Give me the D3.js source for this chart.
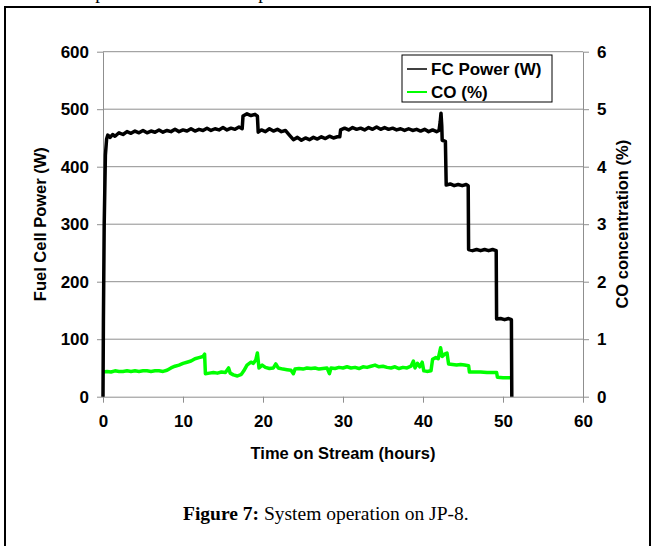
<!DOCTYPE html>
<html><head><meta charset="utf-8">
<script src="https://cdn.jsdelivr.net/npm/d3@7"></script>
<style>html,body{margin:0;padding:0;background:#fff;}svg{display:block;}</style>
</head><body>
<svg id="c" width="654" height="546"></svg>
<script>
// ---- data ----
const xTicks = [0, 10, 20, 30, 40, 50, 60];
const powerTicks = [0, 100, 200, 300, 400, 500, 600];
const coTicks = [0, 1, 2, 3, 4, 5, 6];
const seriesNames = ["FC Power (W)", "CO (%)"];

const powerTime = [0,0.05,0.15,0.3,0.45,0.6,0.9,1.2,1.5,2,2.5,3,3.5,4,4.5,5,5.5,6,6.5,7,7.5,8,8.5,9,9.5,10,10.5,11,11.5,12,12.5,13,13.5,14,14.5,15,15.5,16,16.5,17,17.4,
17.5,18,18.5,19,19.3,19.4,19.8,20.3,20.8,21.3,21.8,22.3,22.8,23.3,23.8,24.3,24.8,25.3,25.8,26.3,26.8,27.3,27.8,28.3,28.8,29.3,29.6,
29.7,30.2,30.7,31.2,31.7,32.2,32.7,33.2,33.7,34.2,34.7,35.2,35.7,36.2,36.7,37.2,37.7,38.2,38.7,39.2,39.7,40.2,40.7,41.2,41.7,42.0,42.15,42.25,42.35,42.4,42.8,
42.9,43.4,43.9,44.4,44.9,45.4,45.65,45.7,46.2,46.7,47.2,47.7,48.2,48.7,49.15,49.2,49.7,50.2,50.7,51.05,51.1];
const powerW = [0,130,300,420,448,455,451,456,453,459,456,461,458,462,459,463,459,462,460,464,460,463,461,465,461,464,462,466,462,465,463,467,463,466,464,468,464,467,465,469,466,
488,492,489,491,488,460,464,461,466,462,465,461,463,455,447,451,446,450,447,451,448,452,449,453,450,452,452,
464,467,464,468,465,467,464,468,465,469,465,468,465,467,464,466,463,466,463,465,462,465,461,464,461,463,478,493,470,446,444,
368,370,367,369,367,369,367,256,254,256,254,256,254,256,254,135,136,134,136,134,0];

const coTime = [0,0.5,1,1.5,2,2.5,3,3.5,4,4.5,5,5.5,6,6.5,7,7.5,8,8.5,9,9.5,10,10.5,11,11.5,12,12.5,12.7,12.8,13.3,13.8,14.3,14.8,15.3,15.7,15.9,16.3,16.8,17.3,17.6,18,18.5,18.8,19.1,19.3,19.5,19.9,20.3,20.8,21.3,21.6,21.9,22.5,23,23.5,23.8,24,24.5,25,25.5,26,26.5,27,27.5,28,28.3,28.5,29,29.5,30,30.5,31,31.5,32,32.5,33,33.5,34,34.5,35,35.5,36,36.5,37,37.5,38,38.5,38.8,39,39.3,39.6,39.9,40.1,40.5,41,41.2,41.6,41.9,42.2,42.4,42.7,43,43.2,43.7,44.2,44.7,45.2,45.7,45.8,46.5,47.2,48,48.7,49.2,49.3,50,50.6,51.2];
const coPct = [0.43,0.44,0.43,0.45,0.44,0.44,0.45,0.44,0.45,0.44,0.45,0.45,0.44,0.45,0.45,0.44,0.46,0.5,0.53,0.55,0.58,0.6,0.62,0.66,0.68,0.7,0.74,0.4,0.41,0.42,0.41,0.43,0.42,0.5,0.41,0.38,0.36,0.39,0.45,0.55,0.6,0.58,0.64,0.76,0.5,0.55,0.51,0.49,0.5,0.57,0.5,0.48,0.47,0.46,0.4,0.48,0.49,0.48,0.5,0.49,0.5,0.48,0.49,0.5,0.4,0.5,0.49,0.51,0.5,0.52,0.5,0.51,0.49,0.52,0.51,0.53,0.55,0.52,0.53,0.51,0.5,0.52,0.49,0.51,0.5,0.53,0.62,0.5,0.58,0.52,0.6,0.45,0.44,0.45,0.65,0.68,0.66,0.85,0.7,0.74,0.76,0.57,0.56,0.55,0.56,0.55,0.54,0.43,0.43,0.43,0.42,0.42,0.42,0.34,0.33,0.33,0.33];

// ---- layout ----
const svg = d3.select("#c");
const L = 103, R = 583, T = 51.7, B = 396.7;
const x = d3.scaleLinear().domain([0, 60]).range([L, R]);
const yP = d3.scaleLinear().domain([0, 600]).range([B, T]);
const yC = d3.scaleLinear().domain([0, 6]).range([B, T]);
const grid = "#8f8f8f";
const font = "'Liberation Sans', Arial, sans-serif";

// frame
svg.append("path").attr("d", "M5,546 L5,7 L650,7 L650,546")
  .attr("fill", "none").attr("stroke", "#000").attr("stroke-width", 2);
// cut-off text from the page above
svg.append("text").attr("x", 100).attr("y", -1).attr("text-anchor","middle")
  .style("font-family","'Liberation Serif', 'Times New Roman', serif").style("font-size","19px").text("p");
svg.append("text").attr("x", 263).attr("y", -1).attr("text-anchor","middle")
  .style("font-family","'Liberation Serif', 'Times New Roman', serif").style("font-size","19px").text("p");

// gridlines
svg.append("g").selectAll("line").data(powerTicks.filter(d => d > 0)).join("line")
  .attr("x1", L).attr("x2", R).attr("y1", d => yP(d)).attr("y2", d => yP(d))
  .attr("stroke", grid).attr("stroke-width", 1);

function styleAxis(g) {
  g.select(".domain").attr("stroke", grid);
  g.selectAll(".tick line").attr("stroke", grid);
  g.selectAll(".tick text").attr("fill", "#000")
    .style("font-family", font).style("font-size", "17px").style("font-weight", "bold");
}
svg.append("g").attr("transform", `translate(${L},0)`)
  .call(d3.axisLeft(yP).tickValues(powerTicks).tickSize(6).tickPadding(8).tickSizeOuter(0))
  .call(styleAxis);
svg.append("g").attr("transform", `translate(${R},0)`)
  .call(d3.axisRight(yC).tickValues(coTicks).tickSize(6).tickPadding(8).tickSizeOuter(0).tickFormat(d3.format("d")))
  .call(styleAxis);
svg.append("g").attr("transform", `translate(0,${B})`)
  .call(d3.axisBottom(x).tickValues(xTicks).tickSize(6).tickPadding(12).tickSizeOuter(0))
  .call(styleAxis);

// axis titles
svg.append("text").attr("x", 343).attr("y", 459).attr("text-anchor", "middle")
  .style("font-family", font).style("font-size", "16.5px").style("font-weight", "bold")
  .text("Time on Stream (hours)");
svg.append("text").attr("transform", `translate(46,${(T+B)/2}) rotate(-90)`).attr("text-anchor", "middle")
  .style("font-family", font).style("font-size", "16.5px").style("font-weight", "bold")
  .text("Fuel Cell Power (W)");
svg.append("text").attr("transform", `translate(628,${(T+B)/2}) rotate(-90)`).attr("text-anchor", "middle")
  .style("font-family", font).style("font-size", "16.5px").style("font-weight", "bold")
  .text("CO concentration (%)");

// series
const coData = coTime.map((t, i) => [t, coPct[i]]);
const pData = powerTime.map((t, i) => [t, powerW[i]]);
svg.append("path").datum(coData)
  .attr("d", d3.line().x(d => x(d[0])).y(d => yC(d[1])))
  .attr("fill", "none").attr("stroke", "#00ff00").attr("stroke-width", 3.5).attr("stroke-linejoin", "round");
svg.append("path").datum(pData)
  .attr("d", d3.line().x(d => x(d[0])).y(d => yP(d[1])))
  .attr("fill", "none").attr("stroke", "#000").attr("stroke-width", 3.5).attr("stroke-linejoin", "round");

// legend
const lg = svg.append("g");
lg.append("rect").attr("x", 402).attr("y", 55).attr("width", 150).attr("height", 47)
  .attr("fill", "#fff").attr("stroke", "#000").attr("stroke-width", 1);
const colors = ["#000", "#00ff00"];
seriesNames.forEach((n, i) => {
  const yy = 69 + i * 23;
  lg.append("line").attr("x1", 407).attr("x2", 427).attr("y1", yy).attr("y2", yy)
    .attr("stroke", colors[i]).attr("stroke-width", i ? 2 : 1.5);
  lg.append("text").attr("x", 431).attr("y", yy + 6)
    .style("font-family", font).style("font-size", "17px").style("font-weight", "bold").text(n);
});

// caption
const cap = svg.append("text").attr("x", 183).attr("y", 520)
  .style("font-family", "'Liberation Serif', 'Times New Roman', serif").style("font-size", "19.5px");
cap.append("tspan").style("font-weight", "bold").text("Figure 7: ");
cap.append("tspan").text("System operation on JP-8.");
</script>
</body></html>
